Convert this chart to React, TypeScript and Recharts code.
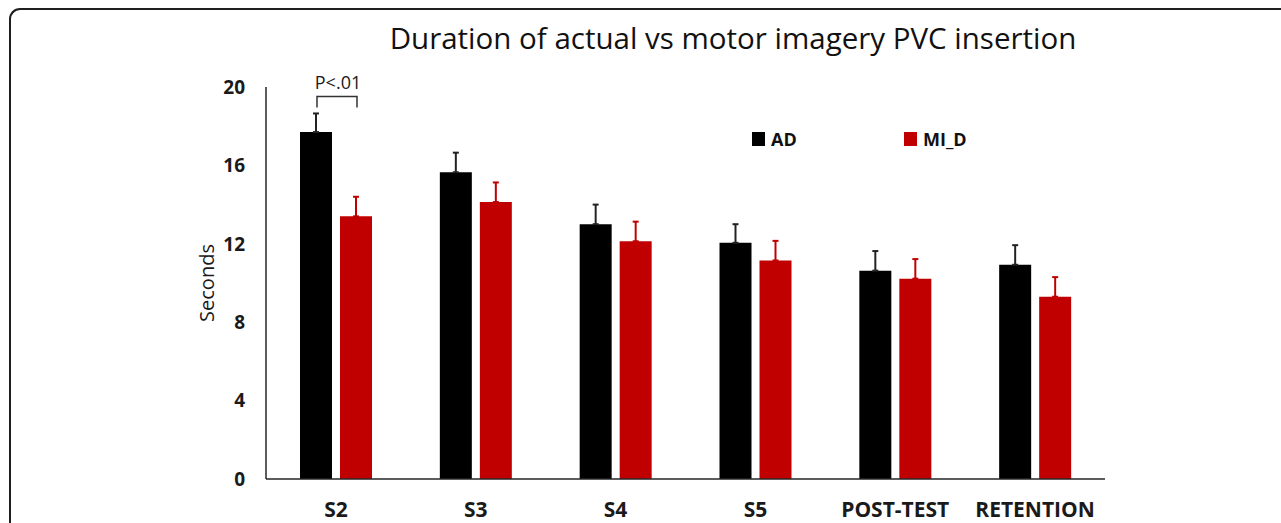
import { BarChart, Bar, XAxis, YAxis, ErrorBar, Legend, LabelList } from "recharts";

const sessions = ["S2", "S3", "S4", "S5", "POST-TEST", "RETENTION"];
const actualDuration = [17.7, 15.65, 13.0, 12.05, 10.63, 10.93];
const imageryDuration = [13.4, 14.13, 12.13, 11.15, 10.22, 9.3];
const actualSd = [0.95, 1.0, 1.0, 0.95, 1.0, 1.0];
const imagerySd = [1.0, 1.0, 1.0, 1.0, 1.0, 1.0];
const yTicks = [0, 4, 8, 12, 16, 20];

const FONT = "'Open Sans', sans-serif";
const C_AD = "#000000";
const C_MI = "#C00000";
const AXIS = "#262626";
const BAR_SIZE = 32;
const BAR_GAP = 8;

const data = sessions.map((s, i) => ({
  session: s,
  AD: actualDuration[i],
  MI_D: imageryDuration[i],
  adErr: [0, actualSd[i]],
  miErr: [0, imagerySd[i]],
}));

// bracket + "P<.01" over the first pair of bars
function SigBracket(props: any) {
  const vb = props.viewBox ?? props;
  const { x, y, height } = vb;
  if (props.index !== 0) return null;
  const v = Number(props.value);
  const pxPerUnit = Number(height) / v;
  const errTop = Number(y) - actualSd[0] * pxPerUnit;
  const x1 = Number(x) + BAR_SIZE / 2 + 1;
  const x2 = x1 + BAR_SIZE + BAR_GAP;
  const yb = errTop - 6;
  const yt = errTop - 17;
  return (
    <g>
      <path d={`M${x1},${yb} L${x1},${yt} L${x2},${yt} L${x2},${yb}`} fill="none" stroke="#333" strokeWidth={1.5} />
      <text x={(x1 + x2) / 2 + 1} y={errTop - 24} textAnchor="middle" fontSize={18} fontFamily={FONT} fill="#1a1a1a">
        P&lt;.01
      </text>
    </g>
  );
}

function LegendBox(props: any) {
  const items = props.payload ?? [];
  return (
    <div style={{ display: "flex", fontFamily: FONT, fontWeight: 700, fontSize: 18, color: "#111" }}>
      {items.map((it: any) => (
        <div key={it.value} style={{ width: 152, display: "flex", alignItems: "center" }}>
          <span style={{ width: 13, height: 14, background: it.color, display: "inline-block", marginRight: 6 }} />
          <span style={{ lineHeight: "18px" }}>{it.value}</span>
        </div>
      ))}
    </div>
  );
}

export default function App() {
  return (
    <div style={{ position: "fixed", left: 0, top: 0, width: 1281, height: 523, overflow: "hidden", background: "#fff" }}>
      <div
        style={{
          position: "absolute", left: 9, top: 8, width: 1320, height: 600,
          borderTop: "2px solid #1f1f1f", borderLeft: "2px solid #1f1f1f", borderTopLeftRadius: 11,
        }}
      />
      <div
        style={{
          position: "absolute", left: 0, width: 1466, top: 23, textAlign: "center",
          fontFamily: FONT, fontSize: 29.5, lineHeight: "29.5px", color: "#111",
        }}
      >
        Duration of actual vs motor imagery PVC insertion
      </div>
      <div style={{ position: "absolute", left: 0, top: 0 }}>
        <BarChart
          width={1281} height={523} data={data}
          margin={{ top: 87, right: 176, bottom: 0, left: 190 }}
          barSize={BAR_SIZE} barGap={BAR_GAP}
        >
          <XAxis
            dataKey="session" height={44}
            axisLine={{ stroke: AXIS, strokeWidth: 1.5 }}
            tickLine={false} tickSize={0} tickMargin={23}
            tick={{ fontSize: 21, fontWeight: 700, fontFamily: FONT, fill: "#1a1a1a" }}
          />
          <YAxis
            width={76} domain={[0, 20]} ticks={yTicks}
            axisLine={{ stroke: AXIS, strokeWidth: 1.5 }}
            tickLine={false} tickSize={0} tickMargin={21}
            tick={{ fontSize: 19, fontWeight: 700, fontFamily: FONT, fill: "#1a1a1a" }}
            label={{ value: "Seconds", angle: -90, position: "center", dx: -21, fontSize: 20, fontFamily: FONT, fill: "#1a1a1a" }}
          />
          <Legend
            layout="horizontal" verticalAlign="middle"
            content={<LegendBox />}
            wrapperStyle={{ position: "absolute", top: 130, left: 752, bottom: "auto", width: "auto" }}
          />
          <Bar dataKey="AD" name="AD" fill={C_AD} isAnimationActive={false}>
            <ErrorBar dataKey="adErr" width={3} strokeWidth={2} stroke="#222" direction="y" />
            <LabelList dataKey="AD" content={<SigBracket />} />
          </Bar>
          <Bar dataKey="MI_D" name="MI_D" fill={C_MI} isAnimationActive={false}>
            <ErrorBar dataKey="miErr" width={3} strokeWidth={2} stroke={C_MI} direction="y" />
          </Bar>
        </BarChart>
      </div>
    </div>
  );
}
